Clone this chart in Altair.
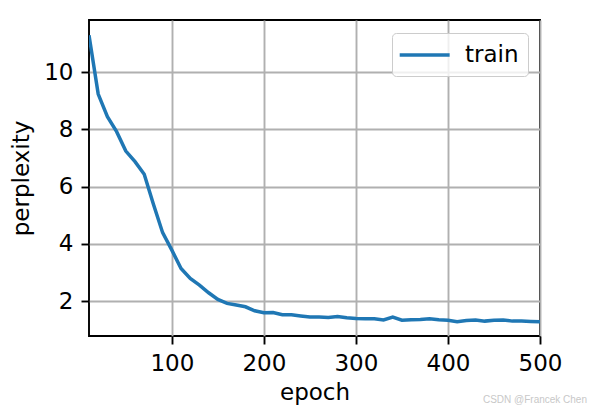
import altair as alt
import pandas as pd

epochs = list(range(10, 501, 10))
perplexity = [11.29, 9.23, 8.44, 7.92, 7.24, 6.87, 6.43, 5.38, 4.39, 3.78,
              3.14, 2.79, 2.56, 2.29, 2.06, 1.92, 1.86, 1.80, 1.66, 1.59,
              1.60, 1.52, 1.52, 1.48, 1.44, 1.44, 1.43, 1.46, 1.42, 1.39,
              1.38, 1.38, 1.34, 1.44, 1.33, 1.35, 1.36, 1.38, 1.35, 1.33,
              1.28, 1.32, 1.34, 1.30, 1.33, 1.34, 1.30, 1.30, 1.29, 1.28]
series = ["train"] * len(epochs)
x_ticks = [100, 200, 300, 400, 500]
y_ticks = [2, 4, 6, 8, 10]

df = pd.DataFrame({"epoch": epochs, "perplexity": perplexity, "series": series})

FONT = "DejaVu Sans"
FS = 23

chart = alt.Chart(df).mark_line(strokeWidth=3.5, clip=True).encode(
    x=alt.X("epoch:Q",
            scale=alt.Scale(domain=[10, 500], nice=False, zero=False),
            axis=alt.Axis(values=x_ticks, title="epoch", format="d",
                          titlePadding=6)),
    y=alt.Y("perplexity:Q",
            scale=alt.Scale(domain=[0.78, 11.82], nice=False, zero=False),
            axis=alt.Axis(values=y_ticks, title="perplexity", format="d",
                          titlePadding=10)),
    color=alt.Color("series:N",
                    scale=alt.Scale(range=["#1f77b4"]),
                    legend=alt.Legend(title=None, orient="none",
                                      legendX=303, legendY=13,
                                      symbolType="M-1.3,0H3.24",
                                      symbolSize=484,
                                      symbolStrokeWidth=3.5,
                                      labelFontSize=FS, labelFont=FONT,
                                      labelColor="black",
                                      labelOffset=38, padding=9,
                                      strokeColor="#cccccc",
                                      fillColor="rgba(255,255,255,0.8)",
                                      cornerRadius=4)),
).properties(
    width=451, height=316,
    autosize=alt.AutoSizeParams(type="none"),
    padding={"left": 81, "top": 12, "right": 48, "bottom": 74},
    title=alt.TitleParams("CSDN @Francek Chen", orient="bottom", anchor="end",
                          frame="group", dx=47, offset=-9, fontSize=10,
                          font="Liberation Sans", fontWeight="normal",
                          color="#c8c8c8"),
).configure_view(
    stroke="black", strokeWidth=1.9
).configure_axis(
    domain=False,
    grid=True, gridColor="#b0b0b0", gridWidth=1.9,
    ticks=True, tickColor="black", tickWidth=1.9, tickSize=8,
    labelFont=FONT, labelFontSize=FS, labelColor="black", labelPadding=8,
    titleFont=FONT, titleFontSize=FS, titleFontWeight="normal", titleColor="black",
    labelFlush=False, labelOverlap=False,
)

chart.save("out.html", embed_options={"renderer": "svg", "actions": False})
